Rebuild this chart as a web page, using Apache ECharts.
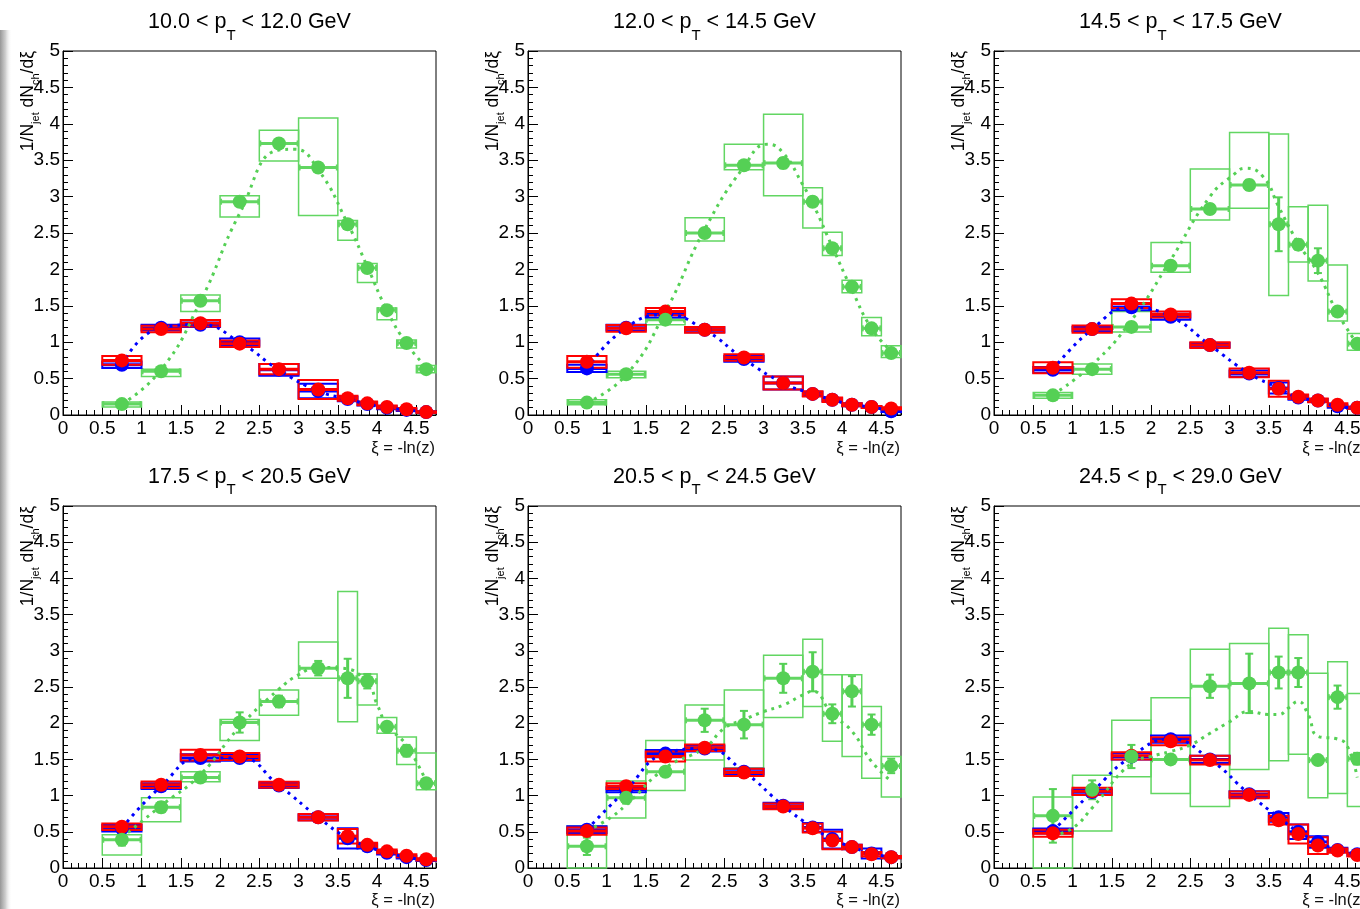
<!DOCTYPE html>
<html>
<head>
<meta charset="utf-8">
<script src="https://cdn.jsdelivr.net/npm/echarts@6/dist/echarts.min.js"></script>
<style>
  html, body { margin: 0; padding: 0; background: #fff; overflow: hidden; }
  #chart { width: 1420px; height: 909px; }
</style>
</head>
<body>
<div id="chart"></div>
<script>
// ξ = -ln(z) binning
const binEdges = [0.5, 1, 1.5, 2, 2.5, 3, 3.5, 3.75, 4, 4.25, 4.5, 4.75];
const binCenters = [0.75, 1.25, 1.75, 2.25, 2.75, 3.25, 3.625, 3.875, 4.125, 4.375, 4.625];

// jet pT intervals (GeV), one per panel
const ptLow = ['10.0', '12.0', '14.5', '17.5', '20.5', '24.5'];
const ptHigh = ['12.0', '14.5', '17.5', '20.5', '24.5', '29.0'];

// blue: values and systematic half-heights
const blueY = [
  [0.69, 1.20, 1.24, 1.00, 0.62, 0.33, 0.22, 0.15, 0.10, 0.07, 0.04],
  [0.64, 1.20, 1.38, 1.17, 0.77, 0.44, 0.29, 0.21, 0.14, 0.11, 0.05],
  [0.62, 1.18, 1.48, 1.35, 0.96, 0.57, 0.37, 0.24, 0.20, 0.12, 0.10],
  [0.55, 1.13, 1.52, 1.52, 1.14, 0.70, 0.41, 0.30, 0.21, 0.15, 0.11],
  [0.53, 1.08, 1.58, 1.65, 1.33, 0.86, 0.56, 0.40, 0.29, 0.20, 0.15],
  [0.51, 1.05, 1.54, 1.78, 1.50, 1.02, 0.70, 0.50, 0.36, 0.25, 0.19]
];
const blueSys = [
  [0.045, 0.04, 0.03, 0.05, 0.08, 0.10, 0.03, 0.02, 0.02, 0.015, 0.01],
  [0.05, 0.04, 0.04, 0.035, 0.04, 0.09, 0.03, 0.02, 0.02, 0.015, 0.01],
  [0.04, 0.03, 0.04, 0.04, 0.03, 0.04, 0.075, 0.03, 0.02, 0.02, 0.015],
  [0.045, 0.04, 0.05, 0.04, 0.035, 0.04, 0.14, 0.03, 0.025, 0.02, 0.015],
  [0.045, 0.035, 0.05, 0.04, 0.04, 0.04, 0.06, 0.13, 0.03, 0.07, 0.015],
  [0.035, 0.035, 0.04, 0.05, 0.05, 0.04, 0.06, 0.10, 0.08, 0.03, 0.02]
];

// red: values and systematic half-heights
const redY = [
  [0.75, 1.18, 1.26, 0.98, 0.63, 0.35, 0.23, 0.16, 0.11, 0.08, 0.04],
  [0.73, 1.19, 1.42, 1.17, 0.79, 0.44, 0.29, 0.21, 0.14, 0.11, 0.09],
  [0.65, 1.18, 1.53, 1.38, 0.96, 0.58, 0.36, 0.25, 0.20, 0.14, 0.10],
  [0.57, 1.15, 1.56, 1.54, 1.15, 0.70, 0.44, 0.32, 0.23, 0.17, 0.12],
  [0.51, 1.13, 1.54, 1.66, 1.32, 0.85, 0.55, 0.38, 0.29, 0.19, 0.15],
  [0.48, 1.06, 1.55, 1.75, 1.49, 1.01, 0.66, 0.47, 0.31, 0.24, 0.18]
];
const redSys = [
  [0.06, 0.045, 0.045, 0.045, 0.07, 0.13, 0.035, 0.025, 0.02, 0.015, 0.01],
  [0.08, 0.045, 0.05, 0.04, 0.045, 0.09, 0.035, 0.03, 0.02, 0.015, 0.015],
  [0.075, 0.05, 0.06, 0.04, 0.04, 0.06, 0.11, 0.03, 0.025, 0.02, 0.015],
  [0.045, 0.045, 0.075, 0.05, 0.04, 0.045, 0.10, 0.03, 0.025, 0.02, 0.015],
  [0.05, 0.04, 0.07, 0.045, 0.05, 0.04, 0.06, 0.12, 0.03, 0.03, 0.015],
  [0.05, 0.05, 0.05, 0.055, 0.06, 0.045, 0.06, 0.13, 0.115, 0.03, 0.02]
];

// green: values, systematic box bounds, statistical errors
const greenY = [
  [0.15, 0.60, 1.57, 2.93, 3.73, 3.40, 2.62, 2.02, 1.44, 0.99, 0.63],
  [0.17, 0.56, 1.31, 2.50, 3.43, 3.46, 2.93, 2.29, 1.76, 1.19, 0.85],
  [0.27, 0.63, 1.21, 2.05, 2.83, 3.16, 2.62, 2.34, 2.12, 1.42, 0.98],
  [0.39, 0.84, 1.25, 2.01, 2.30, 2.76, 2.62, 2.58, 1.95, 1.62, 1.17],
  [0.30, 0.97, 1.33, 2.04, 1.98, 2.62, 2.71, 2.13, 2.44, 1.98, 1.41],
  [0.72, 1.08, 1.54, 1.50, 2.51, 2.55, 2.70, 2.70, 1.49, 2.36, 1.51]
];
const greenLo = [
  [0.11, 0.53, 1.42, 2.72, 3.49, 2.74, 2.40, 1.82, 1.31, 0.92, 0.58],
  [0.14, 0.51, 1.24, 2.39, 3.37, 3.01, 2.57, 2.19, 1.68, 1.09, 0.79],
  [0.23, 0.56, 1.14, 1.96, 2.68, 2.84, 1.64, 2.10, 1.84, 1.29, 0.89],
  [0.18, 0.64, 1.19, 1.76, 2.11, 2.62, 2.02, 2.25, 1.86, 1.43, 1.08],
  [0.00, 0.69, 1.07, 1.49, 1.38, 2.08, 2.23, 1.75, 1.54, 1.24, 0.98],
  [0.00, 0.51, 1.26, 1.03, 0.85, 1.36, 1.48, 1.57, 0.97, 1.03, 0.85]
];
const greenHi = [
  [0.18, 0.63, 1.65, 3.01, 3.91, 4.08, 2.67, 2.08, 1.47, 1.03, 0.68],
  [0.21, 0.60, 1.47, 2.71, 3.72, 4.13, 3.12, 2.51, 1.85, 1.34, 0.95],
  [0.31, 0.70, 1.42, 2.37, 3.38, 3.88, 3.86, 2.86, 2.88, 2.06, 1.12],
  [0.46, 0.97, 1.33, 2.05, 2.46, 3.12, 3.82, 2.68, 2.08, 1.81, 1.59],
  [0.58, 1.20, 1.76, 2.25, 2.46, 2.94, 3.16, 2.67, 2.67, 2.23, 1.54],
  [0.98, 1.28, 2.04, 2.35, 3.02, 3.10, 3.31, 3.22, 2.69, 2.85, 2.41]
];
const greenStat = [
  [0.02, 0.03, 0.04, 0.05, 0.05, 0.06, 0.05, 0.05, 0.04, 0.03, 0.02],
  [0.02, 0.03, 0.04, 0.05, 0.06, 0.07, 0.06, 0.05, 0.04, 0.04, 0.03],
  [0.02, 0.03, 0.05, 0.06, 0.06, 0.07, 0.37, 0.07, 0.17, 0.06, 0.05],
  [0.08, 0.07, 0.05, 0.14, 0.08, 0.10, 0.27, 0.10, 0.06, 0.08, 0.06],
  [0.12, 0.08, 0.06, 0.16, 0.19, 0.20, 0.27, 0.13, 0.21, 0.14, 0.10],
  [0.37, 0.13, 0.16, 0.06, 0.16, 0.41, 0.22, 0.20, 0.06, 0.16, 0.08]
];

// green dotted reference curve, [ξ, value]
const greenCurve = [
  [[0.75, 0.15], [1.25, 0.62], [1.75, 1.56], [2.25, 2.77], [2.75, 3.64], [2.95, 3.65], [3.25, 3.37], [3.625, 2.63], [3.875, 2.04], [4.125, 1.44], [4.375, 0.98], [4.625, 0.66]],
  [[0.75, 0.17], [1.25, 0.55], [1.75, 1.42], [2.25, 2.55], [2.75, 3.41], [3.05, 3.72], [3.25, 3.60], [3.5, 3.16], [3.625, 2.91], [3.875, 2.31], [4.125, 1.72], [4.375, 1.19], [4.625, 0.88]],
  [[0.75, 0.28], [1.25, 0.69], [1.75, 1.30], [2.25, 2.13], [2.75, 3.00], [3.05, 3.30], [3.2, 3.39], [3.43, 3.27], [3.625, 2.86], [3.875, 2.36], [4.125, 1.95], [4.375, 1.40], [4.625, 0.98]],
  [[0.75, 0.42], [1.25, 0.86], [1.75, 1.29], [2.25, 1.95], [2.75, 2.47], [3.0, 2.67], [3.25, 2.77], [3.55, 2.76], [3.875, 2.56], [4.0, 2.26], [4.125, 1.98], [4.375, 1.70], [4.5, 1.47], [4.625, 1.20]],
  [[0.75, 0.52], [1.0, 0.66], [1.25, 0.87], [1.75, 1.38], [2.25, 1.66], [2.5, 1.93], [2.75, 2.05], [3.0, 2.16], [3.25, 2.25], [3.5, 2.39], [3.625, 2.44], [3.875, 2.12], [4.125, 1.89], [4.375, 1.47], [4.625, 1.20]],
  [[0.75, 0.45], [1.0, 0.55], [1.25, 0.83], [1.75, 1.45], [2.0, 1.54], [2.25, 1.61], [2.5, 1.70], [2.75, 1.86], [3.0, 2.02], [3.25, 2.16], [3.5, 2.12], [3.625, 2.12], [3.75, 2.21], [3.875, 2.30], [4.0, 2.12], [4.125, 1.82], [4.375, 1.78], [4.5, 1.68], [4.625, 1.25]]
];

// ---------------------------------------------------------------- layout
const FONT = '"Liberation Sans", Arial, Helvetica, sans-serif';
const COL_LEFT = [63, 528, 994];
const ROW_TOP = [51, 506];
const ROW_H = [364, 362];
const PLOT_W = 373;
const TITLE_Y = [22.5, 477];
const XNAME_Y = [448, 900];

const BLUE = '#0000ff';
const RED = '#ff0000';
const GREEN = '#55d055';
const GREEN_BOX = '#62d662';

const measureCtx = document.createElement('canvas').getContext('2d');
function textWidth(t, size) {
  measureCtx.font = size + 'px ' + FONT;
  return measureCtx.measureText(t).width;
}
function textEl(t, size, x, y, opts) {
  const o = opts || {};
  return {
    type: 'text', x: x, y: y, rotation: o.rotation || 0, silent: true, z: 50,
    style: {
      text: t, font: size + 'px ' + FONT, fill: o.fill || '#000',
      align: o.align || 'left', verticalAlign: 'middle',
      textAlign: o.align || 'left', textVerticalAlign: 'middle'
    }
  };
}

// systematic box with the horizontal bin-width bar through the point
function boxRenderer(color, boxWidth, barWidth, caps) {
  return function (params, api) {
    const x0 = api.value(0), x1 = api.value(1), y = api.value(2);
    const tl = api.coord([x0, api.value(4)]);
    const br = api.coord([x1, api.value(3)]);
    const l = api.coord([x0, y]);
    const r = api.coord([x1, y]);
    const children = [
      { type: 'rect', shape: { x: tl[0], y: tl[1], width: br[0] - tl[0], height: br[1] - tl[1] },
        style: { fill: 'none', stroke: color, lineWidth: boxWidth } },
      { type: 'line', shape: { x1: l[0], y1: l[1], x2: r[0], y2: r[1] },
        style: { stroke: color, lineWidth: barWidth } }
    ];
    if (caps) {
      children.push({ type: 'line', shape: { x1: l[0] + 1, y1: l[1] - 3, x2: l[0] + 1, y2: l[1] + 3 }, style: { stroke: color, lineWidth: 2 } });
      children.push({ type: 'line', shape: { x1: r[0] - 1, y1: r[1] - 3, x2: r[0] - 1, y2: r[1] + 3 }, style: { stroke: color, lineWidth: 2 } });
    }
    return { type: 'group', children: children };
  };
}

// vertical statistical error bar with end caps
function statRenderer(color) {
  return function (params, api) {
    const x = api.value(0), y = api.value(1), e = api.value(2);
    const top = api.coord([x, y + e]);
    const bot = api.coord([x, y - e]);
    return {
      type: 'group', children: [
        { type: 'line', shape: { x1: top[0], y1: top[1], x2: bot[0], y2: bot[1] }, style: { stroke: color, lineWidth: 3 } },
        { type: 'line', shape: { x1: top[0] - 4, y1: top[1], x2: top[0] + 4, y2: top[1] }, style: { stroke: color, lineWidth: 2 } },
        { type: 'line', shape: { x1: bot[0] - 4, y1: bot[1], x2: bot[0] + 4, y2: bot[1] }, style: { stroke: color, lineWidth: 2 } }
      ]
    };
  };
}

const grids = [], xAxes = [], yAxes = [], series = [], graphics = [];
const axisLabelStyle = { fontFamily: FONT, fontSize: 19, color: '#000' };

// window shade on the left edge
graphics.push({
  type: 'rect', silent: true, z: 60,
  shape: { x: 0, y: 30, width: 12, height: 879 },
  style: {
    fill: new echarts.graphic.LinearGradient(0, 0, 1, 0, [
      { offset: 0, color: 'rgba(150,150,150,1)' },
      { offset: 0.45, color: 'rgba(200,200,200,0.9)' },
      { offset: 1, color: 'rgba(255,255,255,0)' }
    ])
  }
});

for (let p = 0; p < 6; p++) {
  const row = Math.floor(p / 3), col = p % 3;
  const left = COL_LEFT[col], top = ROW_TOP[row], h = ROW_H[row];

  grids.push({ left: left, top: top, width: PLOT_W, height: h, show: true,
    borderColor: '#000', borderWidth: 1, backgroundColor: 'transparent' });

  xAxes[p] = {
    gridIndex: p, type: 'value', min: 0, max: 4.75, interval: 0.5, position: 'bottom',
    axisLine: { show: true, onZero: false, lineStyle: { color: '#000', width: 1 } },
    axisTick: { show: true, inside: true, length: 10, lineStyle: { color: '#000', width: 1 } },
    axisLabel: Object.assign({ margin: 4, showMaxLabel: false }, axisLabelStyle),
    splitLine: { show: false }
  };
  // fine ticks every 0.1
  xAxes[6 + p] = {
    gridIndex: p, type: 'value', min: 0, max: 4.75, interval: 0.1, position: 'bottom',
    axisLine: { show: false }, axisLabel: { show: false }, splitLine: { show: false },
    axisTick: { show: true, inside: true, length: 5, lineStyle: { color: '#000', width: 1 } }
  };
  yAxes[p] = {
    gridIndex: p, type: 'value', min: 0, max: 5, interval: 0.5,
    axisLine: { show: true, onZero: false, lineStyle: { color: '#000', width: 1 } },
    axisTick: { show: true, inside: true, length: 10, lineStyle: { color: '#000', width: 1 } },
    minorTick: { show: true, splitNumber: 5, length: 5, lineStyle: { color: '#000', width: 1 } },
    axisLabel: Object.assign({ margin: 3 }, axisLabelStyle),
    splitLine: { show: false }
  };

  const ax = { xAxisIndex: p, yAxisIndex: p, silent: true, animation: false };
  const boxes = (ys, lo, hi) => binCenters.map((c, i) => [binEdges[i], binEdges[i + 1], ys[i], lo[i], hi[i]]);
  const symLo = (ys, s) => ys.map((v, i) => v - s[i]);
  const symHi = (ys, s) => ys.map((v, i) => v + s[i]);
  const points = (ys) => binCenters.map((c, i) => [c, ys[i]]);

  series.push(Object.assign({ type: 'custom', z: 2, renderItem: boxRenderer(GREEN_BOX, 1.5, 3, true),
    encode: { x: [0, 1], y: [2, 3, 4] }, data: boxes(greenY[p], greenLo[p], greenHi[p]) }, ax));
  series.push(Object.assign({ type: 'custom', z: 2, renderItem: boxRenderer(BLUE, 2, 3, false),
    encode: { x: [0, 1], y: [2, 3, 4] }, data: boxes(blueY[p], symLo(blueY[p], blueSys[p]), symHi(blueY[p], blueSys[p])) }, ax));
  series.push(Object.assign({ type: 'custom', z: 2, renderItem: boxRenderer(RED, 2, 3, false),
    encode: { x: [0, 1], y: [2, 3, 4] }, data: boxes(redY[p], symLo(redY[p], redSys[p]), symHi(redY[p], redSys[p])) }, ax));
  series.push(Object.assign({ type: 'line', z: 3, data: points(blueY[p]), smooth: true, showSymbol: false,
    lineStyle: { color: BLUE, width: 3, type: [3, 5], cap: 'butt' } }, ax));
  series.push(Object.assign({ type: 'line', z: 3, data: greenCurve[p], smooth: true, showSymbol: false,
    lineStyle: { color: GREEN, width: 3, type: [3, 5], cap: 'butt' } }, ax));
  series.push(Object.assign({ type: 'custom', z: 3, renderItem: statRenderer(GREEN),
    encode: { x: 0, y: [1] }, data: binCenters.map((c, i) => [c, greenY[p][i], greenStat[p][i]]) }, ax));
  series.push(Object.assign({ type: 'scatter', z: 4, data: points(blueY[p]), symbol: 'circle', symbolSize: 14,
    itemStyle: { color: BLUE, opacity: 1 } }, ax));
  series.push(Object.assign({ type: 'scatter', z: 4, data: points(redY[p]), symbol: 'circle', symbolSize: 14,
    itemStyle: { color: RED, opacity: 1 } }, ax));
  series.push(Object.assign({ type: 'scatter', z: 4, data: points(greenY[p]), symbol: 'circle', symbolSize: 14,
    itemStyle: { color: GREEN, opacity: 1 } }, ax));

  // panel title: lo < pT < hi GeV
  const tParts = [
    { t: ptLow[p] + ' < p', s: 21.5, d: 0 },
    { t: 'T', s: 15, d: 13 },
    { t: ' < ' + ptHigh[p] + ' GeV', s: 21.5, d: 0 }
  ];
  const tW = tParts.reduce((a, q) => a + textWidth(q.t, q.s), 0);
  let tx = left + PLOT_W / 2 - tW / 2;
  tParts.forEach(q => { graphics.push(textEl(q.t, q.s, tx, TITLE_Y[row] + q.d)); tx += textWidth(q.t, q.s); });

  // y title, rotated, ending at the top of the frame
  const yParts = [
    { t: '1/N', s: 17.5, d: 0 },
    { t: 'jet', s: 11, d: 8 },
    { t: ' dN', s: 17.5, d: 0 },
    { t: 'ch', s: 11, d: 8 },
    { t: '/dξ', s: 17.5, d: 0 }
  ];
  const yW = yParts.reduce((a, q) => a + textWidth(q.t, q.s), 0);
  let ty = top + yW;
  const yx = left - 35;
  yParts.forEach(q => {
    graphics.push(textEl(q.t, q.s, yx + q.d, ty, { rotation: Math.PI / 2 }));
    ty -= textWidth(q.t, q.s);
  });

  // x title, right-aligned under the axis
  graphics.push(textEl('ξ = -ln(z)', 16.5, left + PLOT_W - 1, XNAME_Y[row], { align: 'right', fill: '#111' }));
}

const chart = echarts.init(document.getElementById('chart'), null, { renderer: 'canvas' });
chart.setOption({
  backgroundColor: '#ffffff',
  animation: false,
  grid: grids,
  xAxis: xAxes,
  yAxis: yAxes,
  series: series,
  graphic: { elements: graphics }
});
</script>
</body>
</html>
